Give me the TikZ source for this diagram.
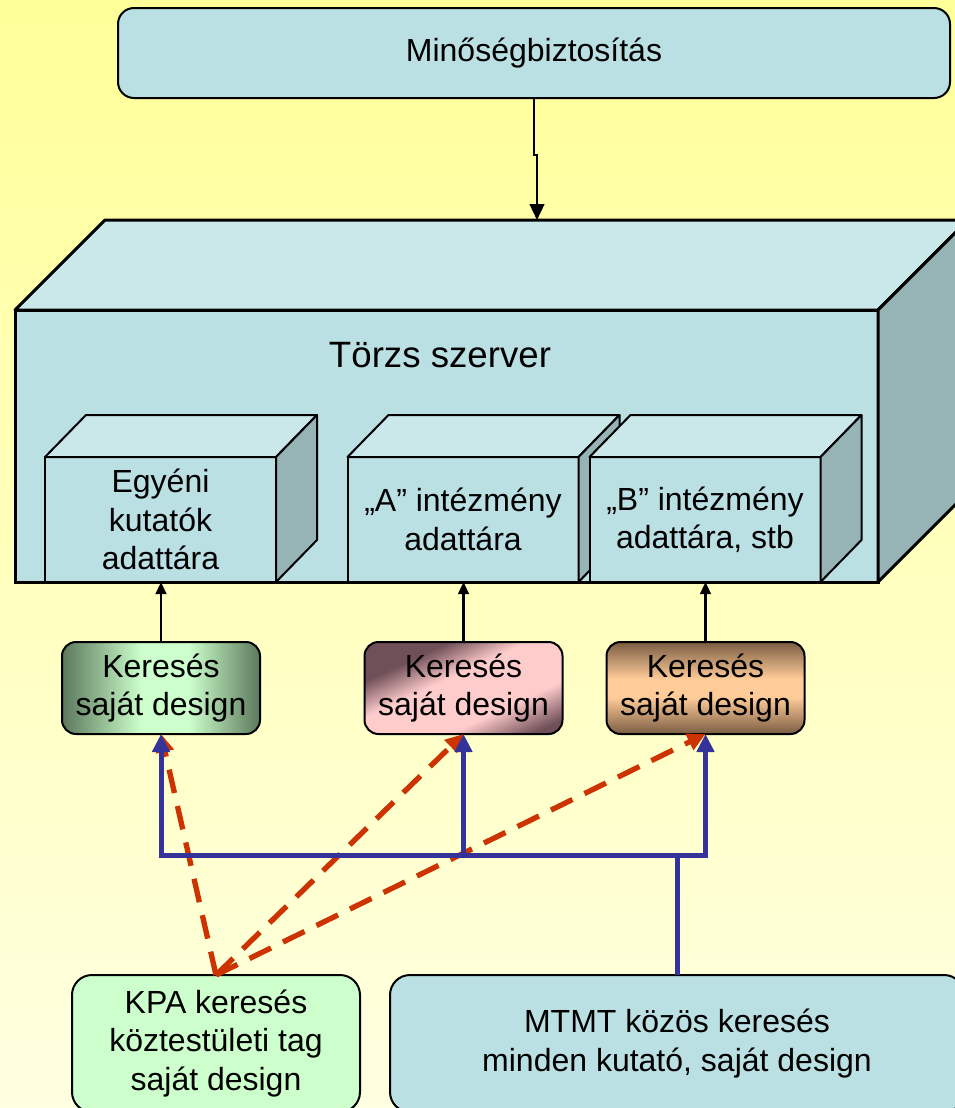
\documentclass[tikz,border=0pt]{standalone}
\usepackage{fontspec}
\setmainfont{Liberation Sans}
\usetikzlibrary{arrows.meta}
\definecolor{bgtop}{RGB}{255,255,153}
\definecolor{bgbot}{RGB}{255,255,225}
\definecolor{cyanfront}{RGB}{187,224,227}
\definecolor{cyantop}{RGB}{202,231,234}
\definecolor{cyanside}{RGB}{150,180,182}
\definecolor{linkblue}{RGB}{51,51,153}
\definecolor{linkred}{RGB}{204,51,0}
\definecolor{greenlight}{RGB}{204,255,204}
\definecolor{greendark}{RGB}{92,120,92}
\definecolor{pinklight}{RGB}{255,204,204}
\definecolor{pinkdark}{RGB}{112,80,88}
\definecolor{peach}{RGB}{255,204,153}
\definecolor{browndark}{RGB}{122,92,66}
\pgfdeclareverticalshading{pinkdiag}{100bp}{color(0bp)=(pinkdark); color(22bp)=(pinkdark);
  color(36bp)=(pinklight); color(56bp)=(pinklight); color(69bp)=(pinkdark); color(100bp)=(pinkdark)}
\pgfdeclarehorizontalshading{greenband}{100bp}{color(0bp)=(greendark); color(25bp)=(greendark);
  color(45bp)=(greenlight); color(57bp)=(greenlight); color(75bp)=(greendark); color(100bp)=(greendark)}
\pgfdeclareverticalshading{tanband}{100bp}{color(0bp)=(browndark); color(25bp)=(browndark);
  color(45bp)=(peach); color(55bp)=(peach); color(75bp)=(browndark); color(100bp)=(browndark)}
\begin{document}
\begin{tikzpicture}[x=0.75pt,y=-0.75pt,
  txt/.style={font=\fontsize{24}{28.8}\selectfont, align=center, text=black},
  rbox/.style={draw=black, line width=1.5pt, inner sep=0pt, outer sep=0pt, txt},
  bigfront/.style={draw=black, line width=2.25pt, fill=cyanfront, inner sep=0pt, outer sep=0pt},
  bigtop/.style={draw=black, line width=2.25pt, fill=cyantop, line join=round},
  bigside/.style={draw=black, line width=2.25pt, fill=cyanside, line join=round},
  repfront/.style={draw=black, line width=1.5pt, fill=cyanfront, inner sep=0pt, outer sep=0pt,
     minimum width=173.25pt, minimum height=93.75pt, txt},
  reptop/.style={draw=black, line width=1.5pt, fill=cyantop, line join=round},
  repside/.style={draw=black, line width=1.5pt, fill=cyanside, line join=round},
  search/.style={rbox, rounded corners=10.5pt, minimum width=148.5pt, minimum height=69pt},
  blkarrow/.style={draw=black, line width=1.8pt, -{Triangle[width=11pt,length=12pt]}},
  smallarrow/.style={draw=black, line width=1.6pt, -{Triangle[width=8pt,length=9pt]}},
  blueline/.style={draw=linkblue, line width=3.75pt},
  redline/.style={draw=linkred, line width=4pt, dash pattern=on 18pt off 10pt,
     -{Triangle[width=13pt,length=13.5pt]}}
]
\useasboundingbox (0,0) rectangle (955,1108);
% background
\node[inner sep=0pt, outer sep=0pt, minimum width=716.25pt, minimum height=831pt,
      top color=bgtop, bottom color=bgbot] (bg) at (477.5,554) {};

% top box
\node[rbox, fill=cyanfront, rounded corners=12pt, minimum width=624pt, minimum height=67.5pt]
  (top) at (534,53) {Minőségbiztosítás};

% big server box
\node[bigfront, minimum width=647.25pt, minimum height=204pt] (srv) at (446.5,446) {};
\filldraw[bigtop] (srv.north west) -- ++(90,-90) -- ([shift={(90,-90)}]srv.north east) -- (srv.north east) -- cycle;
\filldraw[bigside] (srv.north east) -- ++(90,-90) -- ([shift={(90,-90)}]srv.south east) -- (srv.south east) -- cycle;
\node[font=\fontsize{27.5}{33}\selectfont] (srvlabel) at (440,355) {Törzs szerver};
\coordinate (tfb) at (537,220);
\coordinate (jog) at (0,155);

% inner repository boxes
\node[repfront] (r1) at (160.5,519.5) {Egyéni\\kutatók\\adattára};
\filldraw[reptop] (r1.north west) -- ++(41,-42) -- ([shift={(41,-42)}]r1.north east) -- (r1.north east) -- cycle;
\filldraw[repside] (r1.north east) -- ++(41,-42) -- ([shift={(41,-42)}]r1.south east) -- (r1.south east) -- cycle;

\node[repfront] (r2) at (463,519.5) {„A” intézmény\\adattára};
\filldraw[reptop] (r2.north west) -- ++(41,-42) -- ([shift={(41,-42)}]r2.north east) -- (r2.north east) -- cycle;
\filldraw[repside] (r2.north east) -- ++(41,-42) -- ([shift={(41,-42)}]r2.south east) -- (r2.south east) -- cycle;

\node[repfront] (r3) at (705,519.5) {„B” intézmény\\adattára, stb};
\filldraw[reptop] (r3.north west) -- ++(41,-42) -- ([shift={(41,-42)}]r3.north east) -- (r3.north east) -- cycle;
\filldraw[repside] (r3.north east) -- ++(41,-42) -- ([shift={(41,-42)}]r3.south east) -- (r3.south east) -- cycle;

% arrow from quality assurance
\draw[blkarrow] (top.south) -- (top.south |- jog) -- (tfb |- jog) -- (tfb);

% search boxes
\node[search, shading=greenband] (k1) at (161,688) {Keresés\\saját design};
\node[search, shading=pinkdiag, shading angle=25] (k2) at (463.5,688) {Keresés\\saját design};
\node[search, shading=tanband] (k3) at (705.5,688) {Keresés\\saját design};

\draw[smallarrow] (k1.north) -- (k1.north |- r1.south);
\draw[smallarrow] (k2.north) -- (k2.north |- r2.south);
\draw[smallarrow] (k3.north) -- (k3.north |- r3.south);

% bottom boxes
\node[rbox, fill=greenlight, rounded corners=15pt, minimum width=216pt, minimum height=102.75pt]
  (kpa) at (216,1043.5) {KPA keresés\\köztestületi tag\\saját design};
\node[rbox, fill=cyanfront, rounded corners=15pt, minimum width=430.5pt, minimum height=102.75pt]
  (mtmt) at (677,1043.5) {MTMT közös keresés\\minden kutató, saját design};

% red dashed links
\draw[redline] (kpa.north) -- (k1.south);
\draw[redline] (kpa.north) -- (k2.south);
\draw[redline] (kpa.north) -- (k3.south);

% blue links
\coordinate (bus) at (0,855);
\draw[blueline, {Triangle[width=12.75pt,length=13.5pt]}-{Triangle[width=12.75pt,length=13.5pt]}]
  (k1.south) -- (k1.south |- bus) -- (k3.south |- bus) -- (k3.south);
\draw[blueline, -{Triangle[width=12.75pt,length=13.5pt]}] (k2.south |- bus) -- (k2.south);
\draw[blueline] (mtmt.north) -- (mtmt.north |- bus);
\end{tikzpicture}
\end{document}
